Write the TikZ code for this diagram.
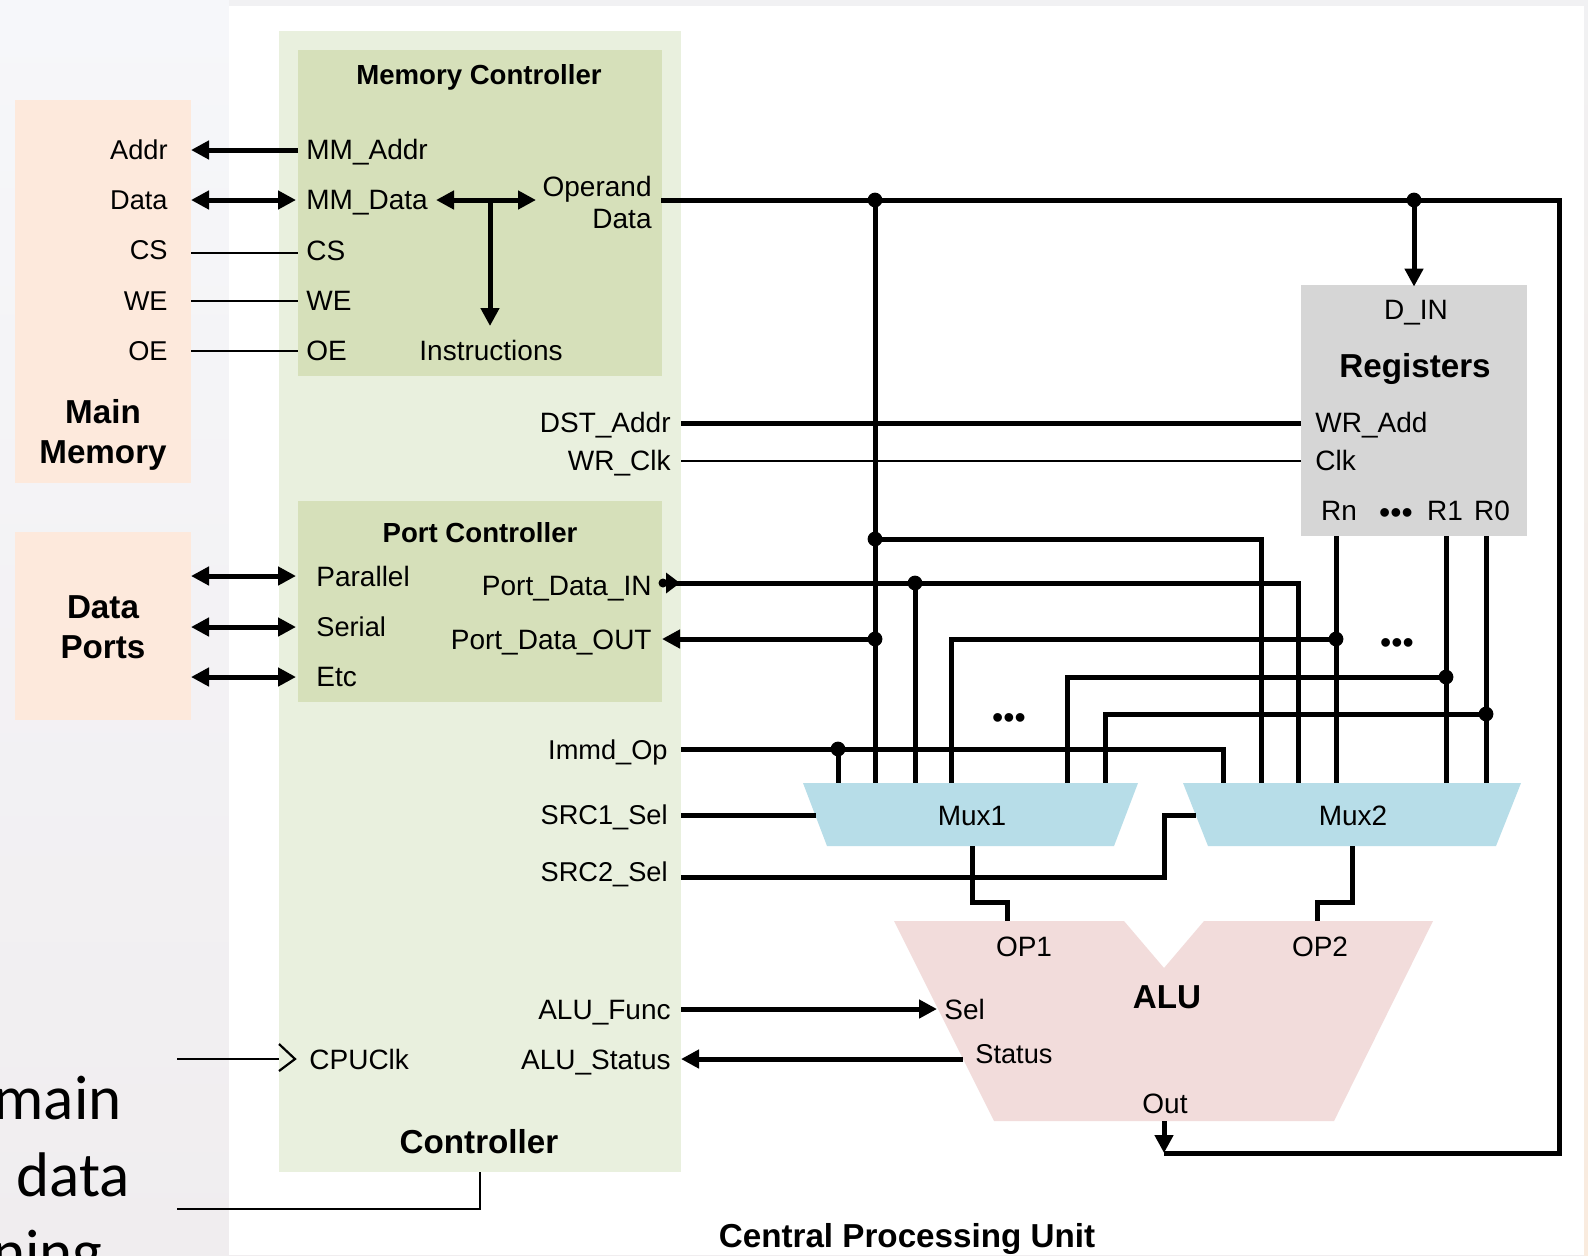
\documentclass[tikz,border=0pt]{standalone}
\usepackage{fontspec}
\setmainfont{Liberation Sans}
\newfontfamily\slidefont{Carlito}
\usetikzlibrary{arrows.meta, backgrounds}
\definecolor{SlideTop}{HTML}{F6F7FA}
\definecolor{SlideBottom}{HTML}{F0EDEF}
\definecolor{EdgeTop}{HTML}{F1F1F3}
\definecolor{EdgeBottom}{HTML}{F9EBDE}
\definecolor{MemPeach}{HTML}{FDE9DC}
\definecolor{CtrlLight}{HTML}{E9F0DE}
\definecolor{CtrlDark}{HTML}{D6E0BA}
\definecolor{RegGray}{HTML}{D6D6D6}
\definecolor{MuxBlue}{HTML}{B7DDE8}
\definecolor{AluPink}{HTML}{F2DCDB}
\tikzset{
    % Boxes - sharp corners, no outline
    membox/.style={rectangle, fill=MemPeach, inner sep=0pt},
    ctrlbox/.style={rectangle, fill=CtrlLight, inner sep=0pt},
    subbox/.style={rectangle, fill=CtrlDark, inner sep=0pt},
    regbox/.style={rectangle, fill=RegGray, inner sep=0pt},
    % Labels
    lbl/.style={inner sep=0pt, text height=9.8pt, text depth=0pt, font=\fontsize{14}{16}\selectfont},
    lblr/.style={lbl, anchor=east},
    lbll/.style={lbl, anchor=west},
    small/.style={font=\fontsize{13.6}{16}\selectfont},
    dotsl/.style={lbl, text height=12pt, font=\fontsize{16}{16}\selectfont},
    title/.style={inner sep=0pt, align=center, font=\fontsize{16.6}{20}\selectfont\bfseries},
    stitle/.style={title, text height=12pt, text depth=0pt},
    subtitle/.style={inner sep=0pt, text height=10pt, text depth=0pt, font=\fontsize{13.8}{16}\selectfont\bfseries},
    bigtext/.style={inner sep=0pt, anchor=base east, font=\fontsize{31.5}{36}\selectfont\slidefont},
    % Wires
    wire/.style={line width=2.5pt, draw=black, >={Triangle[length=9pt,width=9pt]}},
    thin/.style={line width=1.1pt, draw=black},
    dot/.style={circle, fill=black, inner sep=0pt, minimum size=7.4pt}
}
\begin{document}
\begin{tikzpicture}[x=0.5pt, y=-0.5pt]
    \useasboundingbox (0,0) rectangle (1588,1255);
    \clip (0,0) rectangle (1588,1255);

    % Slide behind the figure
    \shade[top color=SlideTop, bottom color=SlideBottom] (0,0) rectangle (1588,1255);
    \shade[top color=EdgeTop, bottom color=EdgeBottom] (1584,0) rectangle (1588,1255);
    \fill[EdgeTop] (229,0) rectangle (1588,6);
    \fill[white] (229,6) rectangle (1584,1255);
    \node[bigtext] (txt1) at (122,1119) {main};
    \node[bigtext] (txt2) at (130,1196) {data};
    \node[bigtext] (txt3) at (103,1273) {ning};

    % Main memory and data ports
    \node[membox, minimum width=88pt, minimum height=191.5pt] (mem) at (103,291.5) {};
    \node[membox, minimum width=88pt, minimum height=94pt] (ports) at (103,626) {};
    \node[title] at (103,435) {Main\\Memory};
    \node[title] at (103,627) {Data\\Ports};
    \node[lblr, small] (maddr) at (168,150) {Addr};
    \node[lblr, small] (mdata) at (168,200) {Data};
    \node[lblr, small] (mcs) at (168,250) {CS};
    \node[lblr, small] (mwe) at (168,301) {WE};
    \node[lblr, small] (moe) at (168,351) {OE};

    % Controller
    \node[ctrlbox, minimum width=201pt, minimum height=570.5pt] (ctrl) at (480,601.5) {};
    \node[subbox, minimum width=182pt, minimum height=163pt] (memctrl) at (480,213) {};
    \node[subbox, minimum width=182pt, minimum height=100.5pt] (portctrl) at (480,601.5) {};
    \node[subtitle] at (479,74) {Memory Controller};
    \node[subtitle] at (480,532) {Port Controller};
    \node[stitle] at (479,1141) {Controller};

    \node[lbll] (caddr) at (306,150) {MM\_Addr};
    \node[lbll] (cdata) at (306,200) {MM\_Data};
    \node[lbll] (ccs) at (306,251) {CS};
    \node[lbll] (cwe) at (306,301) {WE};
    \node[lbll] (coe) at (306,351) {OE};
    \node[inner sep=0pt, align=right, anchor=north east, font=\fontsize{14}{16}\selectfont] (operand) at (652,176) {Operand\\Data};
    \node[lbl] (instr) at (491,351) {Instructions};

    \node[lbll] (parallel) at (316,577) {Parallel};
    \node[lbll, small] (serial) at (316,627) {Serial};
    \node[lbll] (etc) at (316,677) {Etc};
    \node[lblr] (pin) at (652,586) {Port\_Data\_IN};
    \node[lblr] (pout) at (652,640) {Port\_Data\_OUT};

    \node[lblr] (dstaddr) at (671,423) {DST\_Addr};
    \node[lblr] (wrclk) at (671,461) {WR\_Clk};
    \node[lblr, small] (immd) at (668,750) {Immd\_Op};
    \node[lblr, small] (src1) at (668,815) {SRC1\_Sel};
    \node[lblr, small] (src2) at (668,872) {SRC2\_Sel};
    \node[lblr] (alufunc) at (671,1010) {ALU\_Func};
    \node[lblr] (alustat) at (671,1060) {ALU\_Status};
    \node[lbll] (cpuclk) at (309,1060) {CPUClk};

    % Registers
    \node[regbox, minimum width=113pt, minimum height=125.5pt] (regs) at (1414,410.5) {};
    \node[lbl] (din) at (1416,310) {D\_IN};
    \node[stitle] at (1415,365) {Registers};
    \node[lbll] (wradd) at (1315,423) {WR\_Add};
    \node[lbll] (rclk) at (1315,461) {Clk};
    \node[lbl] (rn) at (1339,511) {Rn};
    \node[dotsl] (rdots) at (1396,511) {•••};
    \node[lbl] (r1) at (1445,511) {R1};
    \node[lbl] (r0) at (1492,511) {R0};

    % Muxes and ALU
    \fill[MuxBlue] (803,783) -- (1138,783) -- (1114,846) -- (827,846) -- cycle;
    \fill[MuxBlue] (1183,783) -- (1521,783) -- (1496,846) -- (1208,846) -- cycle;
    \fill[AluPink] (894,921) -- (1124,921) -- (1164,968) -- (1204,921) -- (1433,921)
        -- (1334,1121) -- (994,1121) -- cycle;
    \node[lbl] (mux1) at (972,816) {Mux1};
    \node[lbl] (mux2) at (1353,816) {Mux2};
    \node[stitle] (alu) at (1167,996) {ALU};
    \node[lbl] (op1) at (1024,947) {OP1};
    \node[lbl] (op2) at (1320,947) {OP2};
    \node[lbll] (sel) at (944,1010) {Sel};
    \node[lbll, small] (status) at (975,1054) {Status};
    \node[lbl] (out) at (1165,1104) {Out};
    \node[stitle] at (907,1235) {Central Processing Unit};
    \node[dotsl] (mdots) at (1397,641) {•••};
    \node[dotsl] (ldots) at (1009,716) {•••};

    % Bus junctions
    \coordinate (opnd) at (661,200);
    \coordinate (j1) at (875,200);
    \coordinate (j2) at (1414,200);
    \coordinate (j3) at (875,539);
    \coordinate (j4) at (875,639);
    \coordinate (j5) at (915,583);
    \coordinate (j6) at (838,749);
    \coordinate (j7) at (1336,639);
    \coordinate (j8) at (1446,677);
    \coordinate (j9) at (1486,714);
    \coordinate (busr) at (1559,200);
    \coordinate (busb) at (1559,1153);
    \coordinate (busl) at (1164,1153);

    % Main memory side
    \draw[wire, ->] (298,150) -- (191,150);
    \draw[wire, <->] (191,200) -- (296,200);
    \draw[thin] (191,253) -- (298,253);
    \draw[thin] (191,301) -- (298,301);
    \draw[thin] (191,351) -- (298,351);
    \draw[wire, <->] (436,200) -- (536,200);
    \draw[wire, ->] (490,200) -- (490,326);

    % Data ports side
    \foreach \y in {576,627,677}
        \draw[wire, <->] (191,\y) -- (296,\y);

    % Operand bus
    \draw[wire] (opnd) -- (busr) -- (busb) -- (busl);
    \draw[wire, ->] (1164,1121) -- (busl);
    \draw[wire, ->, shorten >=-1pt] (j2) -- (regs.north -| j2);
    \draw[wire] (j1) -- (875,783);

    % Port data
    \draw[wire] (664,583) -- (1298,583) -- (1298,783);
    \draw[wire, -{Triangle[length=7pt,width=10pt]}] (664,583) -- (680,583);
    \node[dot, minimum size=4.5pt] (pdot) at (663,583) {};
    \draw[wire, ->] (j4) -- (662,639);
    \draw[wire] (j5) -- (915,783);
    \draw[wire] (j3) -- (1261,539) -- (1261,783);

    % Register outputs
    \draw[wire] (1336,536) -- (1336,783);
    \draw[wire] (1446,536) -- (1446,783);
    \draw[wire] (1486,536) -- (1486,783);
    \draw[wire] (j7) -- (951,639) -- (951,783);
    \draw[wire] (j8) -- (1067,677) -- (1067,783);
    \draw[wire] (j9) -- (1105,714) -- (1105,783);

    % Control lines
    \draw[wire] (681,423) -- (1301,423);
    \draw[thin] (681,461) -- (1301,461);
    \draw[wire] (681,749) -- (1223,749) -- (1223,783);
    \draw[wire] (j6) -- (838,783);
    \draw[wire] (681,815) -- (816,815);
    \draw[wire] (681,877) -- (1164,877) -- (1164,815) -- (1196,815);
    \draw[wire] (972,846) -- (972,902) -- (1007,902) -- (1007,921);
    \draw[wire] (1352,846) -- (1352,902) -- (1317,902) -- (1317,921);
    \draw[wire, ->] (681,1009) -- (937,1009);
    \draw[wire, ->] (963,1059) -- (681,1059);

    % Clock and controller wires
    \draw[thin] (177,1059) -- (279,1059);
    \draw[thin] (279,1044) -- (295,1059) -- (279,1071);
    \draw[thin] (480,1172) -- (480,1209) -- (177,1209);

    % Dots
    \foreach \j in {j1,j2,j3,j4,j5,j6,j7,j8,j9}
        \node[dot] at (\j) {};
\end{tikzpicture}
\end{document}
